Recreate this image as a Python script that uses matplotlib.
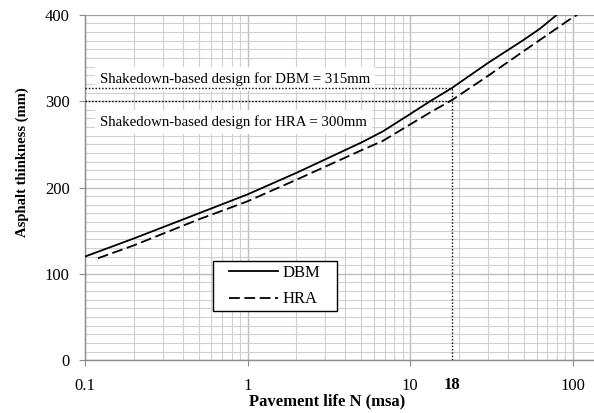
import matplotlib
matplotlib.use("Agg")
import matplotlib.pyplot as plt
from matplotlib.ticker import LogLocator, MultipleLocator, FixedLocator, FixedFormatter
from matplotlib.patches import Rectangle
import matplotlib.transforms as mtransforms

plt.rcParams['font.family'] = ['Liberation Serif', 'DejaVu Serif']
plt.rcParams['font.size'] = 11

# pavement life (msa) vs asphalt thickness (mm)
dbm_life = [0.1, 0.2, 0.5, 1, 2, 5, 6.8, 10, 13.3, 18, 30, 50, 63, 80]
dbm_thick = [120, 141, 170, 192, 217, 252, 265, 285, 300, 315, 344, 371, 384, 400]
hra_life = [0.12, 0.2, 0.5, 1, 2, 5, 6.8, 10, 13.3, 18, 30, 50, 100, 107]
hra_thick = [118, 133, 163, 184, 209, 243, 254, 273, 287, 301, 329, 358, 397, 400]

design_life = 18
dbm_design = 315
hra_design = 300

x_ticks = [0.1, 1, 10, 100]
x_labels = ["0.1", "1", "10", "100"]

fig = plt.figure(figsize=(5.94, 4.13), dpi=100)
ax = fig.add_axes([0.1431, 0.128, 0.857, 0.836])

ax.set_xscale('log')
ax.set_xlim(0.1, 135.6)
ax.set_ylim(0, 400)

ax.xaxis.set_major_locator(FixedLocator(x_ticks))
ax.xaxis.set_major_formatter(FixedFormatter(x_labels))
ax.xaxis.set_minor_locator(LogLocator(base=10, subs=range(2, 10), numticks=20))
ax.xaxis.set_minor_formatter(FixedFormatter([]))
ax.yaxis.set_major_locator(MultipleLocator(100))
ax.yaxis.set_minor_locator(MultipleLocator(10))

ax.grid(which='major', color='#bdbdbd', linewidth=1.0)
ax.grid(which='minor', color='#d0d0d0', linewidth=0.8)
ax.set_axisbelow(True)

for side in ['top', 'right']:
    ax.spines[side].set_visible(False)
for side in ['left', 'bottom']:
    ax.spines[side].set_color('#8c8c8c')
    ax.spines[side].set_linewidth(1.0)
ax.axhline(400, color='#9a9a9a', linewidth=1.2, zorder=1)

ax.tick_params(which='major', direction='out', length=4, color='#8c8c8c', labelsize=12)
ax.tick_params(which='minor', length=0)
ax.tick_params(axis='x', pad=9)
ax.tick_params(axis='y', pad=7)

# design guide lines
dot = (0, (1, 1.4))
ax.plot([0.1, design_life], [dbm_design, dbm_design], color='black', lw=1, ls=dot, zorder=4)
ax.plot([0.1, design_life], [hra_design, hra_design], color='black', lw=1, ls=dot, zorder=4)
ax.plot([design_life, design_life], [0, dbm_design], color='black', lw=1, ls=dot, zorder=4)

ax.text(0.1237, 326, "Shakedown-based design for DBM = 315mm", va='center', ha='left',
        fontsize=10.7, zorder=3,
        bbox=dict(facecolor='white', edgecolor='none', pad=3.5))
ax.text(0.1237, 276, "Shakedown-based design for HRA = 300mm", va='center', ha='left',
        fontsize=10.7, zorder=3,
        bbox=dict(facecolor='white', edgecolor='none', pad=3.5))

ax.plot(dbm_life, dbm_thick, color='black', lw=1.3, label='DBM', zorder=5)
ax.plot(hra_life, hra_thick, color='black', lw=1.3, dashes=(6, 2.5), label='HRA', zorder=5)

trans = mtransforms.blended_transform_factory(ax.transData, ax.transAxes)
ax.text(design_life, -0.048, "18", transform=trans, ha='center', va='top',
        fontsize=12, fontweight='bold')

# legend box drawn separately so its padding matches
ax.add_patch(Rectangle((0.2515, 0.142), 0.2436, 0.1449, transform=ax.transAxes,
                       facecolor='white', edgecolor='black', linewidth=1.0, zorder=6))
leg = ax.legend(loc='center', bbox_to_anchor=(0.3733, 0.2145), borderaxespad=0,
                frameon=False, handlelength=2.9, handletextpad=0.3,
                labelspacing=0.65, fontsize=12, borderpad=0)
leg.set_zorder(7)

fig.text(0.5505, 0.029, "Pavement life N (msa)", fontweight='bold', fontsize=12,
         ha='center', va='center')
fig.text(0.037, 0.608, "Asphalt thinkness (mm)", fontweight='bold', fontsize=10.5,
         ha='center', va='center', rotation=90)

fig.savefig("out.png", dpi=100)
